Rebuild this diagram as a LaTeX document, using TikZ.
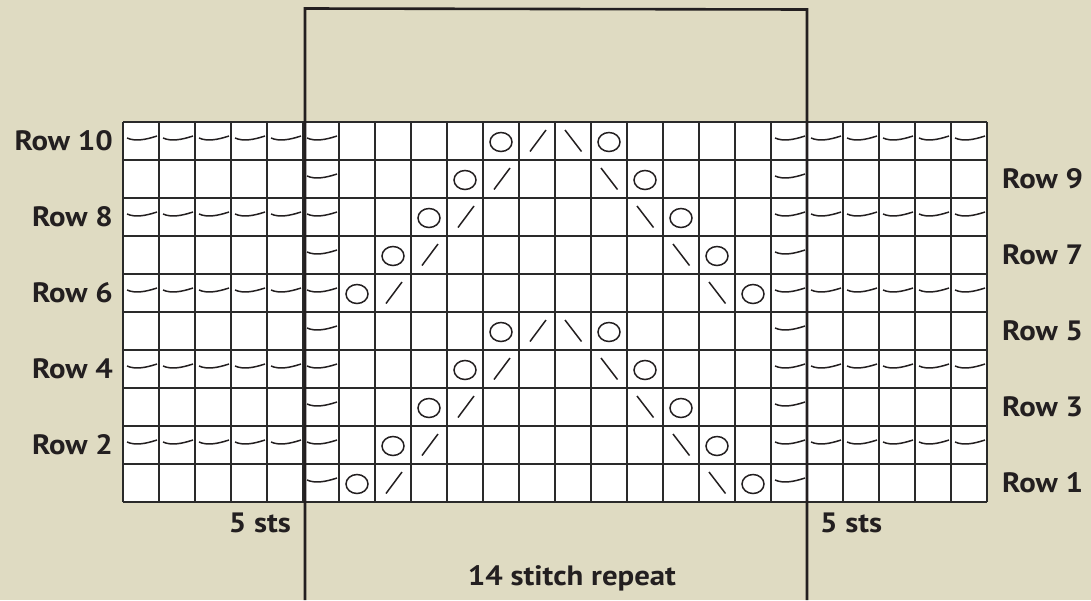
\documentclass[tikz,border=0pt]{standalone}
\usepackage{fontspec}
\setmainfont{PT Sans}[FakeStretch=1.1]
\definecolor{bg}{HTML}{DFDBC2}
\definecolor{ink}{HTML}{231F20}
\definecolor{gridc}{HTML}{2A2A2A}
\begin{document}
\begin{tikzpicture}[x=1pt,y=-1pt,
  gridline/.style={draw=gridc,line width=1.1pt},
  sym/.style={draw=ink,line width=1.5pt},
  framestyle/.style={draw=ink,line width=2.6pt,line join=miter},
  lbl/.style={font=\bfseries\fontsize{28}{28}\selectfont,text=ink,inner sep=0pt}]
\useasboundingbox[fill=bg] (0,0) rectangle (1091,600);
% grid
\fill[white] (123,122) rectangle (987,502);
\foreach \i in {0,...,24} \draw[gridline] ({123+36*\i},122) -- ({123+36*\i},502);
\foreach \j in {0,...,10} \draw[gridline] (123,{122+38*\j}) -- (987,{122+38*\j});
% symbols
\foreach \r in {1,...,10}{
  \pgfmathsetmacro{\cy}{502-38*(\r-0.5)}
  \pgfmathtruncatemacro{\p}{mod(\r-1,5)}
  \pgfmathtruncatemacro{\ev}{mod(\r,2)}
  % purls inside the repeat
  \foreach \c in {5,18}{
    \pgfmathsetmacro{\cx}{123+36*(\c+0.5)}
    \draw[sym] (\cx-14,\cy-3) .. controls (\cx-6,\cy+0.5) and (\cx+4,\cy-1) .. (\cx+16,\cy-5);
  }
  % border purls on even rows
  \ifnum\ev=0
    \foreach \c in {0,1,2,3,4,19,20,21,22,23}{
      \pgfmathsetmacro{\cx}{123+36*(\c+0.5)}
      \draw[sym] (\cx-14,\cy-3) .. controls (\cx-6,\cy+0.5) and (\cx+4,\cy-1) .. (\cx+16,\cy-5);
    }
  \fi
  % yarn overs
  \foreach \c in {{6+\p},{17-\p}}{
    \pgfmathsetmacro{\cx}{123+36*(\c+0.5)}
    \draw[sym] (\cx,\cy+1) ellipse [x radius=11, y radius=9.5];
  }
  % k2tog /
  \pgfmathsetmacro{\cx}{123+36*(7+\p+0.5)}
  \draw[sym] (\cx-7,\cy+10.5) -- (\cx+9,\cy-11);
  % ssk \
  \pgfmathsetmacro{\cx}{123+36*(16-\p+0.5)}
  \draw[sym] (\cx-8,\cy-11) -- (\cx+8.5,\cy+10.5);
}
% repeat frame
\coordinate (fbl) at (305,600);
\coordinate (ftl) at (305,8.5);
\coordinate (ftr) at (807,9.5);
\coordinate (fbr) at (807,600);
\draw[framestyle] (fbl) -- (ftl) -- (ftr) -- (fbr);
% row labels
\foreach \r in {2,4,6,8,10}{
  \pgfmathsetmacro{\cy}{502-38*(\r-0.5)}
  \node[lbl,anchor=east] (row\r) at (113,\cy) {Row \r};
}
\foreach \r in {1,3,5,7,9}{
  \pgfmathsetmacro{\cy}{502-38*(\r-0.5)}
  \node[lbl,anchor=west] (row\r) at (1002,\cy) {Row \r};
}
\node[lbl,anchor=base east] (stsl) at (291,532) {5 sts};
\node[lbl,anchor=base west] (stsr) at (820,532) {5 sts};
\node[lbl,anchor=base] (rep) at (572,585) {14 stitch repeat};
\end{tikzpicture}
\end{document}
